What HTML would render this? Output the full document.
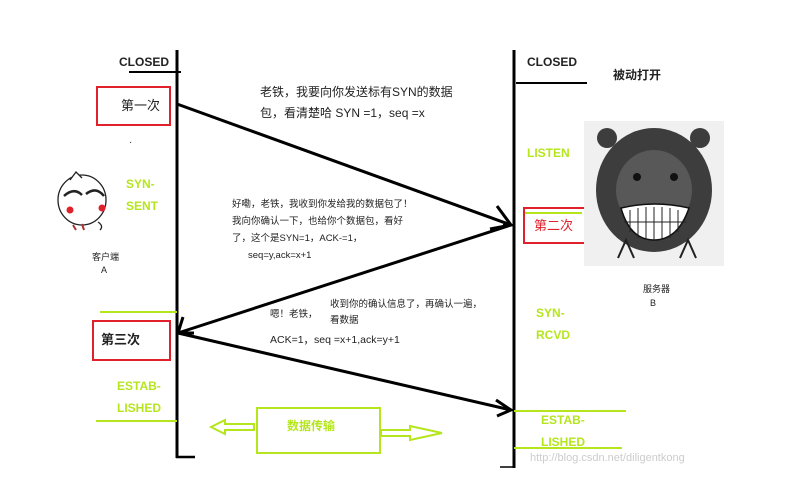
<!DOCTYPE html>
<html><head><meta charset="utf-8"><style>
html,body{margin:0;padding:0;background:#fff;}
svg{display:block;}
text{font-family:"Liberation Sans","Noto Sans CJK SC",sans-serif;}
.g{fill:#b5e61d;font-weight:bold;font-size:12px;}
.k{fill:#222;}
</style></head><body>
<svg width="810" height="488" viewBox="0 0 810 488" xmlns="http://www.w3.org/2000/svg">
<rect width="810" height="488" fill="#fff"/>
<!-- lifelines -->
<line x1="177" y1="50" x2="177" y2="458" stroke="#000" stroke-width="3"/>
<line x1="176" y1="457" x2="195" y2="457" stroke="#000" stroke-width="2.5"/>
<line x1="514" y1="50" x2="514" y2="468" stroke="#000" stroke-width="3"/>
<line x1="500" y1="467" x2="514" y2="467" stroke="#000" stroke-width="1.5"/>
<!-- CLOSED -->
<text x="119" y="66" class="k" font-size="12" font-weight="bold">CLOSED</text>
<line x1="129" y1="72" x2="181" y2="72" stroke="#000" stroke-width="2"/>
<text x="527" y="66" class="k" font-size="12" font-weight="bold">CLOSED</text>
<line x1="516" y1="83" x2="587" y2="83" stroke="#000" stroke-width="2"/>
<text x="613" y="79" class="k" font-size="12" font-weight="bold">被动打开</text>
<!-- boxes -->
<rect x="97" y="87" width="73" height="38" fill="none" stroke="#e0202a" stroke-width="2"/>
<text x="121" y="110" class="k" font-size="13">第一次</text>
<text x="129" y="145" class="k" font-size="10">·</text>
<rect x="93" y="321" width="77" height="39" fill="none" stroke="#e0202a" stroke-width="2"/>
<text x="101" y="344" class="k" font-size="13" font-weight="bold">第三次</text>
<line x1="523" y1="213" x2="582" y2="213" stroke="#b5e61d" stroke-width="2"/>
<rect x="524" y="208" width="61" height="35" fill="none" stroke="#e0202a" stroke-width="2"/>
<text x="534" y="230" fill="#e0202a" font-size="13">第二次</text>
<!-- green states -->
<text x="126" y="188" class="g">SYN-</text>
<text x="126" y="210" class="g">SENT</text>
<line x1="100" y1="312" x2="177" y2="312" stroke="#b5e61d" stroke-width="2"/>
<text x="117" y="390" class="g">ESTAB-</text>
<text x="117" y="412" class="g">LISHED</text>
<line x1="96" y1="421" x2="177" y2="421" stroke="#b5e61d" stroke-width="2"/>
<text x="527" y="157" class="g">LISTEN</text>
<text x="536" y="317" class="g">SYN-</text>
<text x="536" y="339" class="g">RCVD</text>
<line x1="514" y1="411" x2="626" y2="411" stroke="#b5e61d" stroke-width="2"/>
<text x="541" y="424" class="g">ESTAB-</text>
<text x="541" y="446" class="g">LISHED</text>
<line x1="514" y1="448" x2="622" y2="448" stroke="#b5e61d" stroke-width="2"/>
<!-- arrows -->
<g stroke="#000" stroke-width="3" fill="none">
<line x1="177" y1="104" x2="511" y2="225"/>
<polyline points="497,206 511,225 490,229"/>
<line x1="511" y1="225" x2="178" y2="333"/>
<polyline points="183,317 178,333 194,333"/>
<line x1="178" y1="333" x2="511" y2="410"/>
<polyline points="496,400 511,410 497,416"/>
<line x1="503" y1="225" x2="514" y2="225" stroke-width="2"/>
</g>
<!-- messages -->
<text x="260" y="96" class="k" font-size="12">老铁，我要向你发送标有SYN的数据</text>
<text x="260" y="117" class="k" font-size="12">包，看清楚哈 SYN =1，seq =x</text>
<text x="232" y="207" class="k" font-size="9.5">好嘞，老铁，我收到你发给我的数据包了！</text>
<text x="232" y="224" class="k" font-size="9.5">我向你确认一下，也给你个数据包，看好</text>
<text x="232" y="241" class="k" font-size="9.5">了，这个是SYN=1，ACK-=1，</text>
<text x="248" y="258" class="k" font-size="9.5">seq=y,ack=x+1</text>
<text x="270" y="317" class="k" font-size="9.5">嗯！老铁，</text>
<text x="330" y="307" class="k" font-size="9.5">收到你的确认信息了，再确认一遍，</text>
<text x="330" y="323" class="k" font-size="9.5">看数据</text>
<text x="270" y="343" class="k" font-size="10.5">ACK=1，seq =x+1,ack=y+1</text>
<!-- data transfer -->
<rect x="257" y="408" width="123" height="45" fill="none" stroke="#b5e61d" stroke-width="2"/>
<text x="287" y="430" fill="#b5e61d" font-size="12" font-weight="bold">数据传输</text>
<polygon points="211,427 225,420 225,424 254,424 254,430 225,430 225,434" fill="none" stroke="#b5e61d" stroke-width="2"/>
<polygon points="381,430 410,430 410,426 442,433 410,440 410,436 381,436" fill="none" stroke="#b5e61d" stroke-width="2"/>
<!-- client face -->
<g stroke="#222" stroke-width="1.3" fill="#fff">
<ellipse cx="82" cy="200" rx="24" ry="25"/>
<path d="M70 180 L76 172 L82 178" />
<path d="M64 196 Q74 187 82 195" stroke-width="2.5"/>
<path d="M86 194 Q96 186 104 196" stroke-width="2.5"/>
<path d="M98 222 q6 4 2 8"/>
</g>
<circle cx="70" cy="210" r="3.5" fill="#e0202a"/>
<circle cx="102" cy="208" r="3.5" fill="#e0202a"/>
<path d="M73 225 l3 5 M82 224 l2 6" stroke="#a33" stroke-width="2"/>
<text x="92" y="260" class="k" font-size="9">客户端</text>
<text x="101" y="273" class="k" font-size="9">A</text>
<!-- server image -->
<rect x="584" y="121" width="140" height="145" fill="#f0f0f0"/>
<ellipse cx="654" cy="190" rx="58" ry="62" fill="#3d3d3d"/>
<circle cx="607" cy="138" r="10" fill="#3d3d3d"/>
<circle cx="700" cy="138" r="10" fill="#3d3d3d"/>
<ellipse cx="654" cy="190" rx="38" ry="40" fill="#585858"/>
<circle cx="637" cy="177" r="4" fill="#111"/>
<circle cx="674" cy="177" r="4" fill="#111"/>
<path d="M621 208 Q654 200 689 208 Q678 240 654 240 Q630 240 621 208 Z" fill="#fff" stroke="#111" stroke-width="1.5"/>
<path d="M630 210 V232 M638 208 V238 M646 207 V240 M654 207 V240 M662 207 V240 M670 208 V238 M678 210 V232 M624 222 H686" stroke="#222" stroke-width="1"/>
<path d="M618 258 l8 -18 l8 18 M680 258 l8 -18 l8 18" stroke="#222" fill="none" stroke-width="2"/>
<text x="643" y="292" class="k" font-size="9">服务器</text>
<text x="650" y="306" class="k" font-size="9">B</text>
<text x="530" y="461" fill="#ccc" font-size="11" font-family="Liberation Serif">http://blog.csdn.net/diligentkong</text>
</svg>
</body></html>
